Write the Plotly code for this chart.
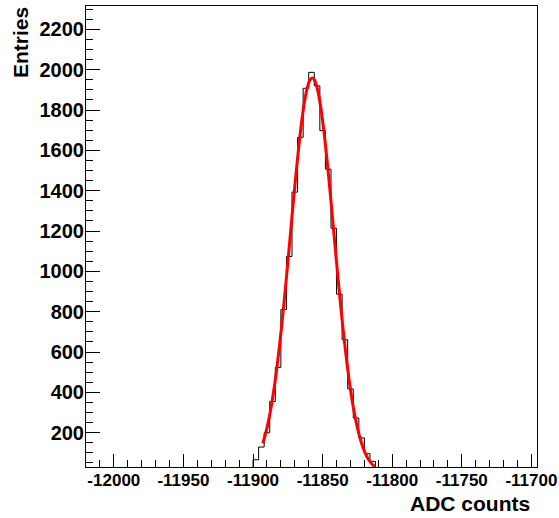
import plotly.graph_objects as go

# Histogram bins (lower edges, width 4 ADC counts) and entries
bin_low_edges = [-11904, -11900, -11896, -11892, -11888, -11884, -11880, -11876,
                 -11872, -11868, -11864, -11860, -11856, -11852, -11848, -11844,
                 -11840, -11836, -11832, -11828, -11824, -11820, -11816, -11812]
bin_width = 4
counts = [20, 66, 129, 200, 355, 524, 811, 1074,
          1393, 1665, 1908, 1987, 1920, 1698, 1507, 1214,
          887, 661, 417, 273, 174, 96, 58, 25]

# Gaussian fit curve samples
fit_x = [-11893, -11891, -11889, -11887, -11885, -11883, -11881, -11879, -11877,
         -11875, -11873, -11871, -11869, -11867, -11865, -11863, -11861, -11859,
         -11857, -11855, -11853, -11851, -11849, -11847, -11845, -11843, -11841,
         -11839, -11837, -11835, -11833, -11831, -11829, -11827, -11825, -11823,
         -11821, -11819, -11817, -11815, -11813, -11812.5]
fit_y = [147, 195, 255, 328, 414, 515, 630, 758, 897,
         1045, 1196, 1348, 1494, 1628, 1746, 1842, 1911, 1951,
         1959, 1935, 1880, 1797, 1690, 1563, 1422, 1272, 1120,
         970, 827, 693, 571, 463, 369, 290, 224, 170,
         127, 93, 67, 48, 34, 31]

x_tick_vals = [-12000, -11950, -11900, -11850, -11800, -11750, -11700]
x_tick_text = ["-12000", "-11950", "-11900", "-11850", "-11800", "-11750", "-11700"]
y_tick_vals = [200, 400, 600, 800, 1000, 1200, 1400, 1600, 1800, 2000, 2200]
y_tick_text = ["200", "400", "600", "800", "1000", "1200", "1400", "1600", "1800", "2000", "2200"]

x_range = [-12020, -11696]
y_range = [30, 2316]
x_title = "ADC counts"
y_title = "Entries"

FONT = "Liberation Sans, Arial, Helvetica, sans-serif"

step_x = [bin_low_edges[0]] + bin_low_edges + [bin_low_edges[-1] + bin_width]
step_y = [0] + counts + [0]

fig = go.Figure()
fig.add_trace(go.Scatter(x=step_x, y=step_y, mode="lines", line_shape="hv",
                         line=dict(color="black", width=1), hoverinfo="skip",
                         showlegend=False))
fig.add_trace(go.Scatter(x=fit_x, y=fit_y, mode="lines", line_shape="spline",
                         line=dict(color="#ff0000", width=3), showlegend=False))

fig.update_layout(
    width=559, height=518,
    margin=dict(l=86, r=22, t=6, b=51, autoexpand=False),
    paper_bgcolor="white", plot_bgcolor="white",
    showlegend=False,
)
fig.update_xaxes(
    range=x_range, showgrid=False, zeroline=False, automargin=False,
    showline=True, linecolor="black", linewidth=1, mirror=True,
    ticks="inside", ticklen=13, tickcolor="black", tickwidth=1,
    tickmode="array", tickvals=x_tick_vals, ticktext=x_tick_text,
    minor=dict(ticks="inside", ticklen=7, dtick=10, tick0=-12000, tickcolor="black", showgrid=False),
    tickfont=dict(family=FONT, size=17, color="black", weight="bold"),
    ticklabelstandoff=-2,
)
fig.update_yaxes(
    range=y_range, showgrid=False, zeroline=False, automargin=False,
    showline=True, linecolor="black", linewidth=1, mirror=True,
    ticks="inside", ticklen=14, tickcolor="black", tickwidth=1,
    tickmode="array", tickvals=y_tick_vals, ticktext=y_tick_text,
    minor=dict(ticks="inside", ticklen=7, dtick=50, tick0=0, tickcolor="black", showgrid=False),
    tickfont=dict(family=FONT, size=20, color="black", weight="bold"),
    ticklabelstandoff=-3,
)
fig.add_annotation(text=x_title, xref="paper", yref="paper",
                   x=(532 - 86) / 451, y=(467 - 503) / 461,
                   xanchor="right", yanchor="middle", showarrow=False,
                   font=dict(family=FONT, size=21, color="black", weight="bold"))
fig.add_annotation(text=y_title, xref="paper", yref="paper",
                   x=(20.5 - 86) / 451, y=(467 - 5) / 461,
                   xanchor="center", yanchor="top", textangle=-90, showarrow=False,
                   font=dict(family=FONT, size=21, color="black", weight="bold"))

fig.write_html("out.html", config={"displayModeBar": False},
               post_script="document.body.style.margin='0';")
